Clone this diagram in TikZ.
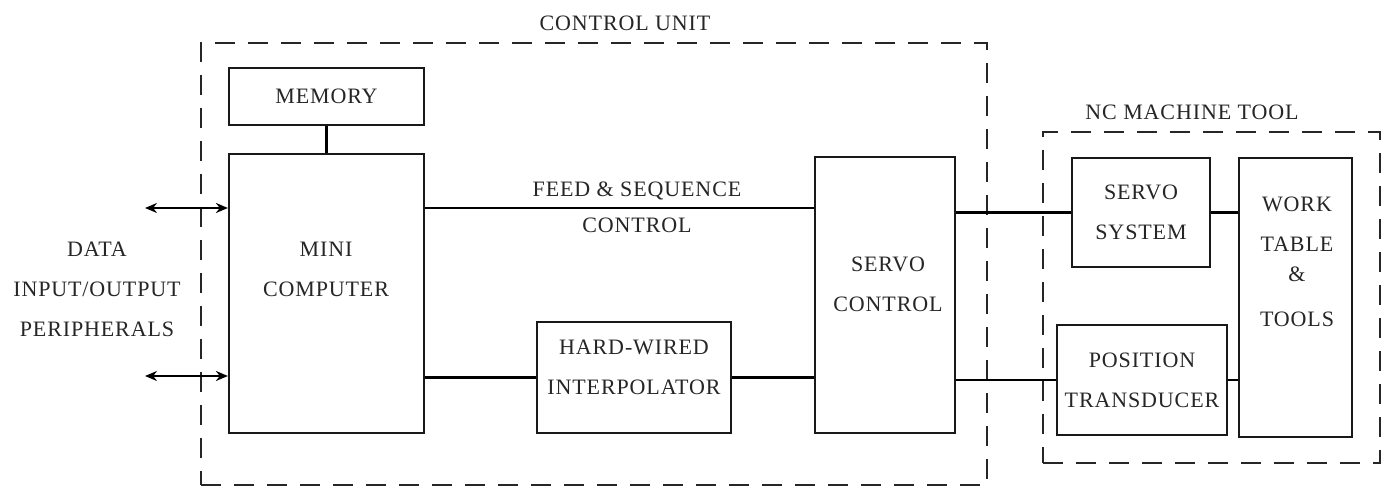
\documentclass[tikz,border=0pt]{standalone}
\usepackage{fontspec}
\setmainfont[LetterSpace=4]{Liberation Serif}
\usetikzlibrary{arrows.meta}

\tikzset{
  blk/.style={draw=black!90, line width=1.1pt, inner sep=0pt},
  grp/.style={draw=black!85, line width=1.1pt, dash pattern=on 10pt off 6.5pt, inner sep=0pt},
  lbl/.style={text=black!85, align=center, font=\fontsize{11}{20}\selectfont},
  io/.style={<->, >={Stealth[length=6pt,width=5pt]}},
}

\begin{document}
\begin{tikzpicture}[x=0.5pt, y=-0.5pt, line width=1.1pt]
  \useasboundingbox (0,0) rectangle (1389,491);
  \fill[white] (0,0) rectangle (1389,491);

  % 控制单元
  \node[grp, minimum width=393pt, minimum height=221pt] (cu) at (594,264) {};
  \node[lbl] (cutitle) at (625,23) {CONTROL UNIT};
  \node[blk, lbl, minimum width=97.5pt, minimum height=28.5pt] (mem) at (326.5,96.5) {MEMORY};
  \node[blk, minimum width=97.5pt, minimum height=139.5pt] (mini) at (326.5,293.5) {};
  \node[lbl] (minitxt) at (326,269) {MINI\\COMPUTER};
  \node[blk, minimum width=97pt, minimum height=55.5pt] (hw) at (634,377.5) {};
  \node[lbl] (hwtxt) at (634,367) {HARD-WIRED\\INTERPOLATOR};
  \node[blk, minimum width=70pt, minimum height=138pt] (sc) at (885,295) {};
  \node[lbl] (sctxt) at (888,284) {SERVO\\CONTROL};

  % 机床
  \node[grp, minimum width=168.5pt, minimum height=165.5pt] (nc) at (1211.5,297.5) {};
  \node[lbl] (nctitle) at (1192,112) {NC MACHINE TOOL};
  \node[blk, lbl, minimum width=69pt, minimum height=54.5pt] (ss) at (1141,212.5) {SERVO\\SYSTEM};
  \node[blk, lbl, minimum width=85pt, minimum height=55pt] (pt) at (1142,380) {POSITION\\TRANSDUCER};
  \node[blk, minimum width=56.5pt, minimum height=139.5pt] (wt) at (1295.5,297.5) {};
  \node[lbl] (wttxt) at (1297,262) {WORK\\TABLE\\[-5pt]\&\\[2.5pt]TOOLS};

  % 外设
  \coordinate (io1) at (145,208);
  \coordinate (io2) at (145,376);
  \node[lbl] (datatxt) at (97,289) {DATA\\INPUT/OUTPUT\\PERIPHERALS};
  \draw[io] (io1) -- (io1 -| mini.west);
  \draw[io] (io2) -- (io2 -| mini.west);

  % 连线
  \draw (mem) -- (mini);
  \draw (io1 -| mini.east) -- node[lbl, above, pos=.545] (feedtxt) {FEED \& SEQUENCE}
    node[lbl, below=1pt, pos=.545] (ctrltxt) {CONTROL} (io1 -| sc.west);
  \draw (hw.west -| mini.east) -- (hw.west);
  \draw (hw.east) -- (hw.east -| sc.west);
  \draw (ss.west -| sc.east) -- (ss.west);
  \draw (ss.east) -- (ss.east -| wt.west);
  \draw (pt.west -| sc.east) -- (pt.west);
  \draw (pt.east) -- (pt.east -| wt.west);
\end{tikzpicture}
\end{document}
